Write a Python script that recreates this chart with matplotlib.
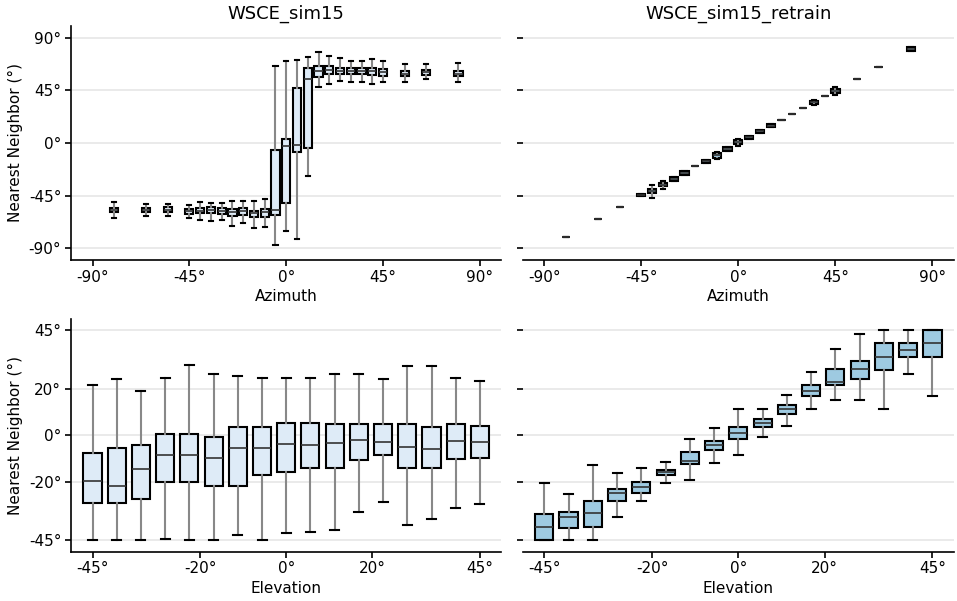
import numpy as np
import matplotlib.pyplot as plt

# azimuth positions (deg)
azimuths = [-80, -65, -55, -45, -40, -35, -30, -25, -20, -15, -10, -5, 0,
            5, 10, 15, 20, 25, 30, 35, 40, 45, 55, 65, 80]
# elevation positions (deg)
elevations = [-45 + 5.625 * i for i in range(17)]

# WSCE_sim15, azimuth: whisker low, q1, median, q3, whisker high
az_sim_lo = [-63.8, -62.1, -62.4, -63.8, -65.5, -66.6, -66.1, -70.6, -68.6, -72.3, -71.8,
             -87.2, -74.9, -81.7, -28.5, 47.8, 50.1, 52.7, 52.4, 52.4, 50.4, 52.4, 52.4, 54.7, 52.4]
az_sim_q1 = [-59.2, -58.7, -59.0, -60.4, -60.1, -60.1, -60.7, -62.1, -61.5, -63.5, -63.5,
             -61.8, -51.6, -7.7, -4.0, 56.7, 59.0, 59.0, 59.0, 59.0, 58.1, 57.5, 57.0, 57.8, 57.0]
az_sim_med = [-57.2, -57.0, -57.0, -58.4, -57.8, -57.2, -57.8, -58.7, -57.8, -60.1, -59.0,
              -57.2, -2.8, -1.4, 55.0, 61.8, 62.4, 61.8, 61.5, 61.8, 61.2, 60.7, 59.2, 60.4, 59.2]
az_sim_q3 = [-55.3, -55.3, -55.0, -56.7, -55.5, -55.0, -55.8, -56.4, -55.8, -58.1, -56.1,
             -6.0, 3.7, 46.7, 63.8, 65.8, 65.8, 64.1, 64.1, 64.1, 63.8, 62.9, 61.5, 62.7, 61.8]
az_sim_hi = [-50.7, -52.4, -52.1, -52.7, -50.7, -51.0, -51.3, -49.3, -49.6, -49.3, -47.8,
             65.5, 70.1, 70.6, 73.5, 77.8, 74.3, 72.3, 70.3, 70.3, 71.8, 69.8, 67.5, 67.8, 68.4]

# WSCE_sim15_retrain, azimuth
az_re_lo = [-80.0, -65.0, -55.0, -45.5, -46.7, -39.3, -32.2, -27.1, -20.0, -16.8, -14.0,
            -6.6, -2.3, 3.1, 8.5, 13.4, 20.0, 25.0, 30.0, 32.5, 40.0, 41.0, 55.0, 65.0, 78.9]
az_re_q1 = [-80.0, -65.0, -55.0, -45.5, -42.7, -37.0, -32.2, -27.1, -20.0, -16.8, -12.8,
            -6.6, -1.1, 3.1, 8.5, 13.4, 20.0, 25.0, 30.0, 33.0, 40.0, 42.7, 55.0, 65.0, 78.9]
az_re_med = [-80.0, -65.0, -55.0, -44.7, -40.7, -35.6, -30.5, -25.3, -20.0, -15.4, -10.5,
             -5.1, 0.6, 4.8, 10.0, 14.8, 20.0, 25.0, 30.0, 34.7, 40.0, 44.4, 55.0, 65.0, 80.3]
az_re_q3 = [-80.0, -65.0, -55.0, -44.0, -39.0, -34.2, -29.1, -23.9, -20.0, -14.2, -8.8,
            -3.7, 2.3, 6.3, 11.4, 16.2, 20.0, 25.0, 30.0, 36.2, 40.0, 46.1, 55.0, 65.0, 81.7]
az_re_hi = [-80.0, -65.0, -55.0, -44.0, -35.6, -32.5, -29.1, -23.9, -20.0, -14.2, -7.7,
            -3.7, 3.4, 6.3, 11.4, 16.2, 20.0, 25.0, 30.0, 37.0, 40.0, 47.8, 55.0, 65.0, 81.7]

# WSCE_sim15, elevation
el_sim_lo = [-45.0, -44.9, -45.0, -44.6, -45.0, -44.9, -43.0, -44.9, -42.0, -41.7, -40.7,
             -32.9, -28.6, -38.6, -36.0, -31.1, -29.4]
el_sim_q1 = [-29.0, -29.3, -27.4, -20.0, -20.0, -21.7, -21.7, -17.1, -15.9, -14.3, -14.0,
             -10.6, -8.7, -14.0, -14.3, -10.1, -9.6]
el_sim_med = [-19.6, -21.9, -14.4, -8.4, -8.3, -9.6, -5.4, -5.3, -4.0, -4.1, -3.3,
              -2.1, -3.0, -4.9, -6.1, -2.3, -3.1]
el_sim_q3 = [-7.7, -5.3, -4.4, 0.4, 0.4, -0.9, 3.3, 3.6, 5.3, 5.3, 4.6,
             4.6, 4.6, 4.6, 3.3, 4.9, 4.0]
el_sim_hi = [21.4, 24.3, 19.1, 24.7, 30.1, 26.4, 25.3, 24.7, 24.7, 24.7, 26.4,
             26.4, 24.1, 29.6, 29.6, 24.7, 23.3]

# WSCE_sim15_retrain, elevation
el_re_lo = [-45.0, -45.0, -45.0, -35.3, -28.1, -20.4, -19.1, -12.0, -8.3, -0.7, 3.9,
            11.1, 15.1, 14.9, 11.3, 26.1, 16.9]
el_re_q1 = [-45.0, -39.7, -39.6, -28.3, -24.6, -17.3, -12.3, -6.4, -1.7, 3.4, 9.0,
            16.7, 21.7, 23.9, 28.0, 33.7, 33.7]
el_re_med = [-39.4, -34.9, -33.4, -24.9, -22.3, -16.0, -11.3, -4.4, 0.9, 5.3, 11.3,
             19.1, 22.6, 28.3, 33.7, 36.6, 39.4]
el_re_q3 = [-33.9, -33.1, -28.1, -23.3, -20.1, -14.9, -7.3, -2.4, 3.7, 7.0, 13.0,
            21.3, 28.3, 31.9, 39.6, 39.6, 45.0]
el_re_hi = [-20.6, -25.3, -12.6, -16.4, -14.0, -11.7, -1.6, 3.1, 11.3, 11.3, 17.4,
            27.0, 36.9, 43.3, 45.0, 45.0, 45.0]

az_ticks = [-90, -45, 0, 45, 90]
az_ticklabels = ['-90°', '-45°', '0°', '45°', '90°']
el_ticks = [-45, -20, 0, 20, 45]
el_ticklabels = ['-45°', '-20°', '0°', '20°', '45°']


def make_stats(lo, q1, med, q3, hi):
    stats = []
    for i in range(len(med)):
        stats.append({'whislo': lo[i], 'q1': q1[i], 'med': med[i],
                      'q3': q3[i], 'whishi': hi[i], 'fliers': []})
    return stats


def draw_boxes(ax, pos, stats, width, fill):
    ax.bxp(stats, positions=pos, widths=width, patch_artist=True,
           showfliers=False, manage_ticks=False,
           boxprops=dict(facecolor=fill, edgecolor='black', linewidth=1.5),
           medianprops=dict(color='#333333', linewidth=1.2),
           whiskerprops=dict(color='#888888', linewidth=1.5),
           capprops=dict(color='black', linewidth=1.5))


def style_axis(ax, ticks, ticklabels, lim, xlabel, left_spine=True, ylab=True):
    ax.set_xlim(-lim, lim)
    ax.set_ylim(-lim, lim)
    ax.set_xticks(ticks)
    ax.set_xticklabels(ticklabels)
    ax.set_yticks(ticks)
    if ylab:
        ax.set_yticklabels(ticklabels)
        ax.set_ylabel('Nearest Neighbor (°)', fontsize=11)
    else:
        ax.set_yticklabels([])
    ax.set_xlabel(xlabel, fontsize=11, labelpad=3)
    ax.grid(axis='y', color='#e6e6e6', linewidth=1.2)
    ax.set_axisbelow(True)
    ax.spines['top'].set_visible(False)
    ax.spines['right'].set_visible(False)
    ax.spines['left'].set_visible(left_spine)
    for s in ['left', 'bottom']:
        ax.spines[s].set_linewidth(1.2)
    ax.tick_params(labelsize=11, length=4, width=1.2, pad=3)


fig = plt.figure(figsize=(9.57, 6.01), dpi=100)
ax_tl = fig.add_axes([0.0742, 0.5674, 0.4498, 0.3894])
ax_tr = fig.add_axes([0.5462, 0.5674, 0.4507, 0.3894])
ax_bl = fig.add_axes([0.0742, 0.0820, 0.4498, 0.3879])
ax_br = fig.add_axes([0.5462, 0.0820, 0.4507, 0.3879])

light = '#deebf7'
blue = '#9ecae1'

draw_boxes(ax_tl, azimuths, make_stats(az_sim_lo, az_sim_q1, az_sim_med, az_sim_q3, az_sim_hi), 3.8, light)
draw_boxes(ax_tr, azimuths, make_stats(az_re_lo, az_re_q1, az_re_med, az_re_q3, az_re_hi), 3.8, blue)
draw_boxes(ax_bl, elevations, make_stats(el_sim_lo, el_sim_q1, el_sim_med, el_sim_q3, el_sim_hi), 4.2, light)
draw_boxes(ax_br, elevations, make_stats(el_re_lo, el_re_q1, el_re_med, el_re_q3, el_re_hi), 4.2, blue)

style_axis(ax_tl, az_ticks, az_ticklabels, 100, 'Azimuth')
style_axis(ax_tr, az_ticks, az_ticklabels, 100, 'Azimuth', left_spine=False, ylab=False)
style_axis(ax_bl, el_ticks, el_ticklabels, 50, 'Elevation')
style_axis(ax_br, el_ticks, el_ticklabels, 50, 'Elevation', left_spine=False, ylab=False)

ax_tl.set_title('WSCE_sim15', fontsize=13, pad=5)
ax_tr.set_title('WSCE_sim15_retrain', fontsize=13, pad=5)

fig.savefig('out.png', dpi=100)
